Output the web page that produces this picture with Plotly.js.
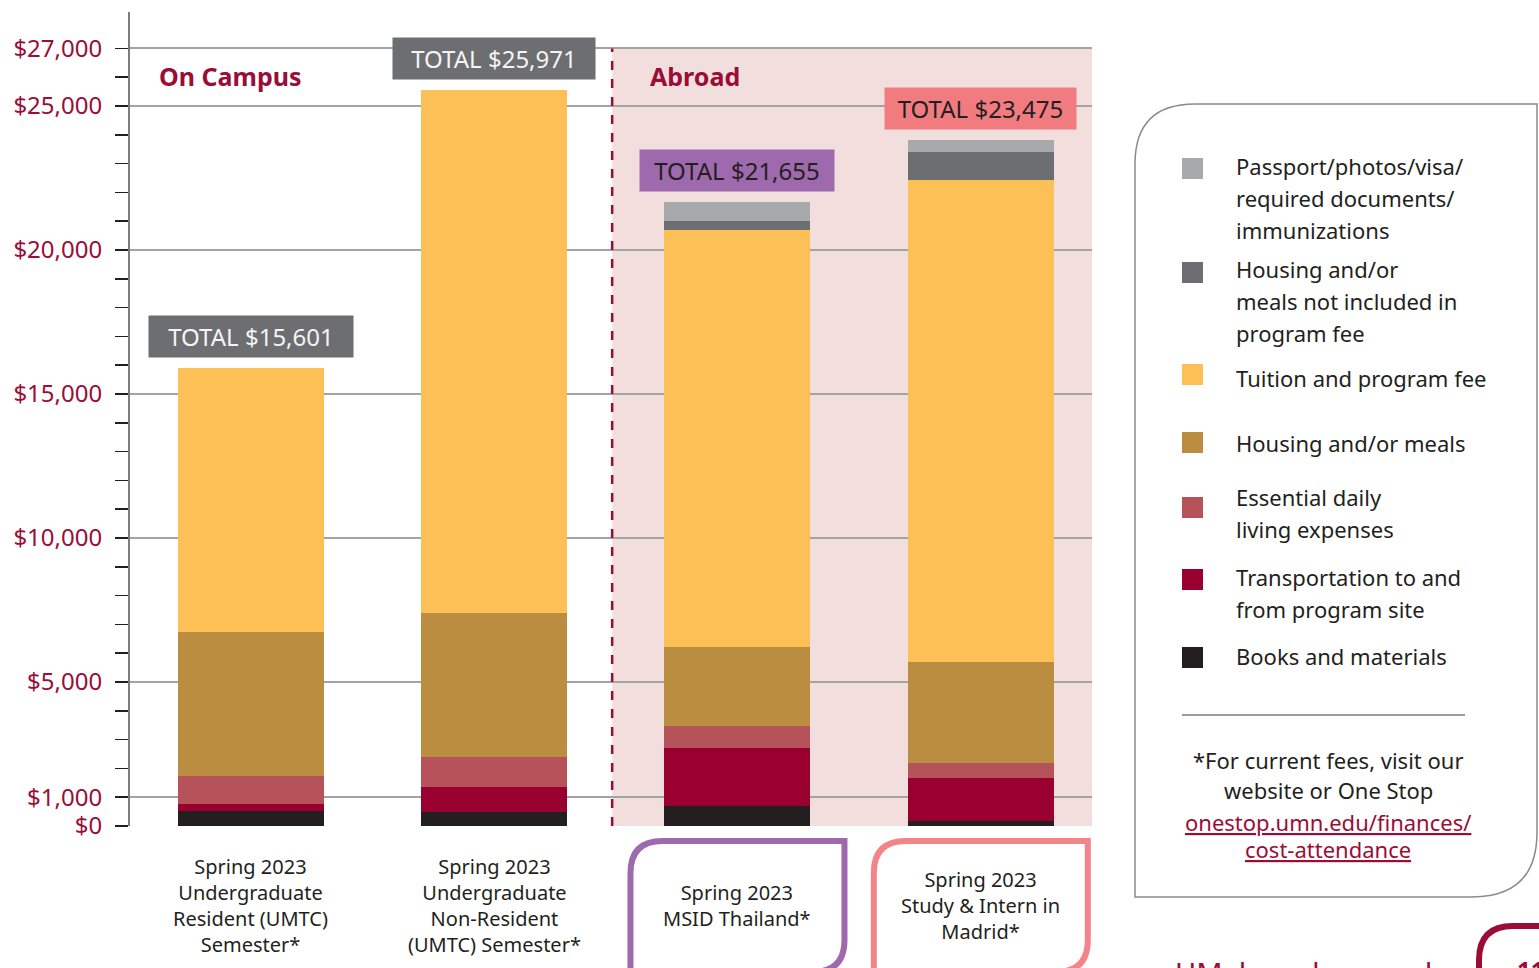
<!DOCTYPE html>
<html>
<head>
<meta charset="utf-8">
<script src="https://cdn.plot.ly/plotly-3.0.1.min.js"></script>
<style>html,body{margin:0;padding:0;background:#fff;}#chart{width:1539px;height:968px;}</style>
</head>
<body>
<div id="chart"></div>
<script>
// ---------- DATA ----------
const categories = [
  "Spring 2023<br>Undergraduate<br>Resident (UMTC)<br>Semester*",
  "Spring 2023<br>Undergraduate<br>Non-Resident<br>(UMTC) Semester*",
  "Spring 2023<br>MSID Thailand*",
  "Spring 2023<br>Study & Intern in<br>Madrid*"
];
const totalLabels = ["TOTAL $15,601", "TOTAL $25,971", "TOTAL $21,655", "TOTAL $23,475"];

const books          = [510, 500, 690, 170];
const transportation = [240, 870, 2010, 1490];
const essential      = [970, 1040, 760, 520];
const housing        = [5000, 4970, 2740, 3510];
const tuition        = [9170, 18160, 14480, 16740];
const housingNotIncl = [0, 0, 310, 970];
const passport       = [0, 0, 660, 420];

const yTickVals = [0, 1000, 5000, 10000, 15000, 20000, 25000, 27000];
const yTickText = ["$0", "$1,000", "$5,000", "$10,000", "$15,000", "$20,000", "$25,000", "$27,000"];

const legendLines = [
  ["Passport/photos/visa/", "required documents/", "immunizations"],
  ["Housing and/or", "meals not included in", "program fee"],
  ["Tuition and program fee"],
  ["Housing and/or meals"],
  ["Essential daily", "living expenses"],
  ["Transportation to and", "from program site"],
  ["Books and materials"]
];
const groupLabels = ["On Campus", "Abroad"];
const footnote = ["*For current fees, visit our", "website or One Stop"];
const footLink = ["onestop.umn.edu/finances/", "cost-attendance"];

// ---------- STYLE ----------
const FONT = "Noto Sans";
const CRIMSON = "#9b0d36";
const DARK = "#231f20";
const colors = {
  books: "#231f20", transportation: "#990030", essential: "#b5525a",
  housing: "#bb8d40", tuition: "#fdc057", housingNotIncl: "#6d6e71", passport: "#a7a9ac"
};
const series = [
  {name: "Books and materials", y: books, c: colors.books},
  {name: "Transportation to and from program site", y: transportation, c: colors.transportation},
  {name: "Essential daily living expenses", y: essential, c: colors.essential},
  {name: "Housing and/or meals", y: housing, c: colors.housing},
  {name: "Tuition and program fee", y: tuition, c: colors.tuition},
  {name: "Housing and/or meals not included in program fee", y: housingNotIncl, c: colors.housingNotIncl},
  {name: "Passport/photos/visa/required documents/immunizations", y: passport, c: colors.passport}
];
const legendColors = [colors.passport, colors.housingNotIncl, colors.tuition, colors.housing, colors.essential, colors.transportation, colors.books];

// ---------- GEOMETRY ----------
const W = 1539, H = 968, L = 130, R = 1092, T = 12, B = 826;
const XR = [-0.4965, 3.457];
const YR = [0, 28264];
const px = x => (x - L) / (R - L);
const py = y => (B - y) / (B - T);
const catPix = i => L + (i - XR[0]) / (XR[1] - XR[0]) * (R - L);
function pathPaper(cmds) {
  return cmds.map(c => {
    if (c[0] === 'Z') return 'Z';
    const pts = [];
    for (let k = 1; k < c.length; k += 2) pts.push(px(c[k]).toFixed(5) + ',' + py(c[k + 1]).toFixed(5));
    return c[0] + pts.join(' ');
  }).join(' ');
}

const traces = series.map(s => ({
  type: 'bar', x: categories, y: s.y, name: s.name, width: 0.6,
  marker: {color: s.c, line: {width: 0}}, showlegend: false, hoverinfo: 'skip'
}));

const totals = categories.map((_, i) => series.reduce((a, s) => a + s.y[i], 0));

const shapes = [];
const annotations = [];

// Abroad background + divider
shapes.push({type: 'rect', layer: 'below', xref: 'x', yref: 'y', x0: 1.485, x1: XR[1], y0: 0, y1: 27000,
  fillcolor: '#f2dfdd', line: {width: 0}});
shapes.push({type: 'line', layer: 'above', xref: 'x', yref: 'y', x0: 1.485, x1: 1.485, y0: 0, y1: 27000,
  line: {color: CRIMSON, width: 2.5, dash: 'dash'}});

// group labels
annotations.push({xref: 'paper', yref: 'paper', x: px(157), y: py(76), xanchor: 'left', yanchor: 'middle', showarrow: false,
  text: '<b>' + groupLabels[0] + '</b>', font: {family: FONT, size: 25, color: CRIMSON}});
annotations.push({xref: 'paper', yref: 'paper', x: px(648), y: py(76), xanchor: 'left', yanchor: 'middle', showarrow: false,
  text: '<b>' + groupLabels[1] + '</b>', font: {family: FONT, size: 25, color: CRIMSON}});

// total labels
const totalBg = ['#6d6e71', '#6d6e71', '#9e6aad', '#f27b80'];
const totalFg = ['#f4f4f4', '#f4f4f4', DARK, DARK];
const totalW = [194, 192, 184, 181];
categories.forEach((c, i) => {
  annotations.push({xref: 'x', yref: 'y', x: c, y: totals[i], xanchor: 'center', yanchor: 'bottom', yshift: 10,
    showarrow: false, text: totalLabels[i], bgcolor: totalBg[i], borderpad: 5, width: totalW[i], height: 31,
    font: {family: FONT, size: 24, color: totalFg[i]}});
});

// category labels
categories.forEach((c, i) => {
  annotations.push({xref: 'x', yref: 'paper', x: c, y: py(905), xanchor: 'center', yanchor: 'middle',
    showarrow: false, text: c, font: {family: FONT, size: 20, color: DARK}});
});

// outline boxes around abroad labels
const boxColors = [null, null, '#9e6aad', '#f3858a'];
[2, 3].forEach(i => {
  const cx = catPix(i), hw = 107, top = 841, bot = 972, r = 32;
  shapes.push({type: 'path', xref: 'paper', yref: 'paper', layer: 'above',
    path: pathPaper([['M', cx - hw, bot], ['L', cx - hw, top + r], ['Q', cx - hw, top, cx - hw + r, top],
      ['L', cx + hw, top], ['L', cx + hw, bot - r], ['Q', cx + hw, bot, cx + hw - r, bot], ['Z']]),
    fillcolor: 'rgba(0,0,0,0)', line: {color: boxColors[i], width: 6}});
});

// legend panel
shapes.push({type: 'path', xref: 'paper', yref: 'paper', layer: 'above',
  path: pathPaper([['M', 1135, 897], ['L', 1135, 164], ['Q', 1135, 104, 1195, 104], ['L', 1537, 104],
    ['L', 1537, 832], ['Q', 1537, 897, 1472, 897], ['Z']]),
  fillcolor: 'rgba(0,0,0,0)', line: {color: '#8a8a8a', width: 1.5}});
const sqTop = [158, 262, 364, 432, 497, 569, 647];
const txtTop = [166, 269, 378, 443, 497, 577, 656];
legendLines.forEach((lines, k) => {
  shapes.push({type: 'rect', xref: 'paper', yref: 'paper', layer: 'above',
    x0: px(1182), x1: px(1203), y0: py(sqTop[k] + 21), y1: py(sqTop[k]),
    fillcolor: legendColors[k], line: {width: 0}});
  lines.forEach((t, j) => {
    annotations.push({xref: 'paper', yref: 'paper', x: px(1234), y: py(txtTop[k] + 32 * j), xanchor: 'left', yanchor: 'middle',
      showarrow: false, text: t, font: {family: FONT, size: 22, color: DARK}});
  });
});
shapes.push({type: 'line', xref: 'paper', yref: 'paper', layer: 'above', x0: px(1182), x1: px(1465), y0: py(715), y1: py(715),
  line: {color: '#7a7a7a', width: 1.5}});
footnote.forEach((t, j) => {
  annotations.push({xref: 'paper', yref: 'paper', x: px(1328), y: py(760 + 30 * j), xanchor: 'center', yanchor: 'middle',
    showarrow: false, text: t, font: {family: FONT, size: 22, color: DARK}});
});
footLink.forEach((t, j) => {
  annotations.push({xref: 'paper', yref: 'paper', x: px(1328), y: py(822 + 27 * j), xanchor: 'center', yanchor: 'middle',
    showarrow: false, text: '<u>' + t + '</u>', font: {family: FONT, size: 22, color: CRIMSON}});
});

// page footer decorations
annotations.push({xref: 'paper', yref: 'paper', x: px(1173), y: py(951), xanchor: 'left', yanchor: 'top',
  showarrow: false, text: 'UMabroad.umn.edu', font: {family: FONT, size: 29, color: CRIMSON}});
shapes.push({type: 'path', xref: 'paper', yref: 'paper', layer: 'above',
  path: pathPaper([['M', 1479, 985], ['L', 1479, 960], ['Q', 1479, 926, 1513, 926], ['L', 1550, 926]]),
  fillcolor: 'rgba(0,0,0,0)', line: {color: CRIMSON, width: 6}});
annotations.push({xref: 'paper', yref: 'paper', x: px(1515), y: py(951), xanchor: 'left', yanchor: 'top',
  showarrow: false, text: '<b>11</b>', font: {family: FONT, size: 24, color: CRIMSON}});

const minorVals = [];
for (let v = 0; v <= 27000; v += 1000) minorVals.push(v);

const layout = {
  width: W, height: H,
  margin: {l: L, r: W - R, t: T, b: H - B, pad: 0},
  paper_bgcolor: '#ffffff', plot_bgcolor: '#ffffff',
  barmode: 'stack', bargap: 0,
  font: {family: FONT, color: DARK},
  xaxis: {type: 'category', range: XR, showgrid: false, zeroline: false, showticklabels: false, ticks: '',
    showline: false, fixedrange: true},
  yaxis: {range: YR, tickmode: 'array', tickvals: yTickVals, ticktext: yTickText,
    ticks: 'outside', ticklen: 13, tickwidth: 1.5, tickcolor: DARK, ticklabelstandoff: 8,
    tickfont: {family: FONT, size: 24, color: CRIMSON},
    showgrid: true, gridcolor: '#a3a3a3', gridwidth: 2, zeroline: false,
    showline: true, linecolor: '#7d7d7d', linewidth: 2,
    minor: {tickmode: 'array', tickvals: minorVals, ticks: 'outside', ticklen: 13, tickwidth: 1.5, tickcolor: DARK, showgrid: false},
    fixedrange: true},
  shapes: shapes,
  annotations: annotations,
  showlegend: false
};

Plotly.newPlot('chart', traces, layout, {staticPlot: true, displayModeBar: false});
</script>
</body>
</html>
